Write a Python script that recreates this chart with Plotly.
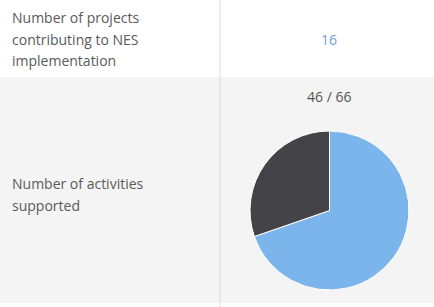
import plotly.graph_objects as go

row_labels = [["Number of projects", "contributing to NES", "implementation"], ["Number of activities", "supported"]]
projects_value = 16
activities_supported = 46
activities_total = 66
slice_labels = ["Supported", "Not supported"]
slice_values = [activities_supported, activities_total - activities_supported]
slice_colors = ["#7cb5ec", "#434348"]

W, H = 434, 307
def px(x): return x / W
def py(y): return 1 - y / H

fig = go.Figure()
fig.add_trace(go.Pie(
    labels=slice_labels, values=slice_values, sort=False, direction="clockwise", rotation=0,
    marker=dict(colors=slice_colors, line=dict(color="white", width=1)),
    textinfo="none", hoverinfo="skip", showlegend=False,
    domain=dict(x=[px(250), px(409)], y=[py(290), py(131)]),
))

shapes = [
    dict(type="rect", xref="paper", yref="paper", x0=0, x1=1, y0=py(303), y1=py(77),
         fillcolor="#f4f4f4", line=dict(width=0), layer="below"),
    dict(type="line", xref="paper", yref="paper", x0=px(220), x1=px(220), y0=0, y1=1,
         line=dict(color="#dcdcdc", width=1), layer="below"),
]
font = "Open Sans, sans-serif"
annotations = []
row_centers = [39, 194]
line_gap = 22
for lines, yc in zip(row_labels, row_centers):
    n = len(lines)
    for i, t in enumerate(lines):
        yy = yc + (i - (n - 1) / 2) * line_gap
        annotations.append(dict(text=t, x=px(10), y=py(yy), xanchor="left", yanchor="middle",
                                showarrow=False, font=dict(family=font, size=14, color="#5a5a5a")))
annotations += [
    dict(text=str(projects_value), x=px(329), y=py(39), xanchor="center", yanchor="middle",
         showarrow=False, font=dict(family=font, size=14, color="#6f9fd8")),
    dict(text=f"{activities_supported} / {activities_total}", x=px(329), y=py(97), xanchor="center", yanchor="middle",
         showarrow=False, font=dict(family=font, size=14, color="#555555")),
]
for a in annotations:
    a["xref"] = "paper"; a["yref"] = "paper"

fig.update_layout(width=W, height=H, margin=dict(l=0, r=0, t=0, b=0),
                  paper_bgcolor="white", plot_bgcolor="white",
                  shapes=shapes, annotations=annotations)
fig.write_html("out.html", config={"displayModeBar": False},
               post_script="document.body.style.margin='0';document.body.style.overflow='hidden';")
